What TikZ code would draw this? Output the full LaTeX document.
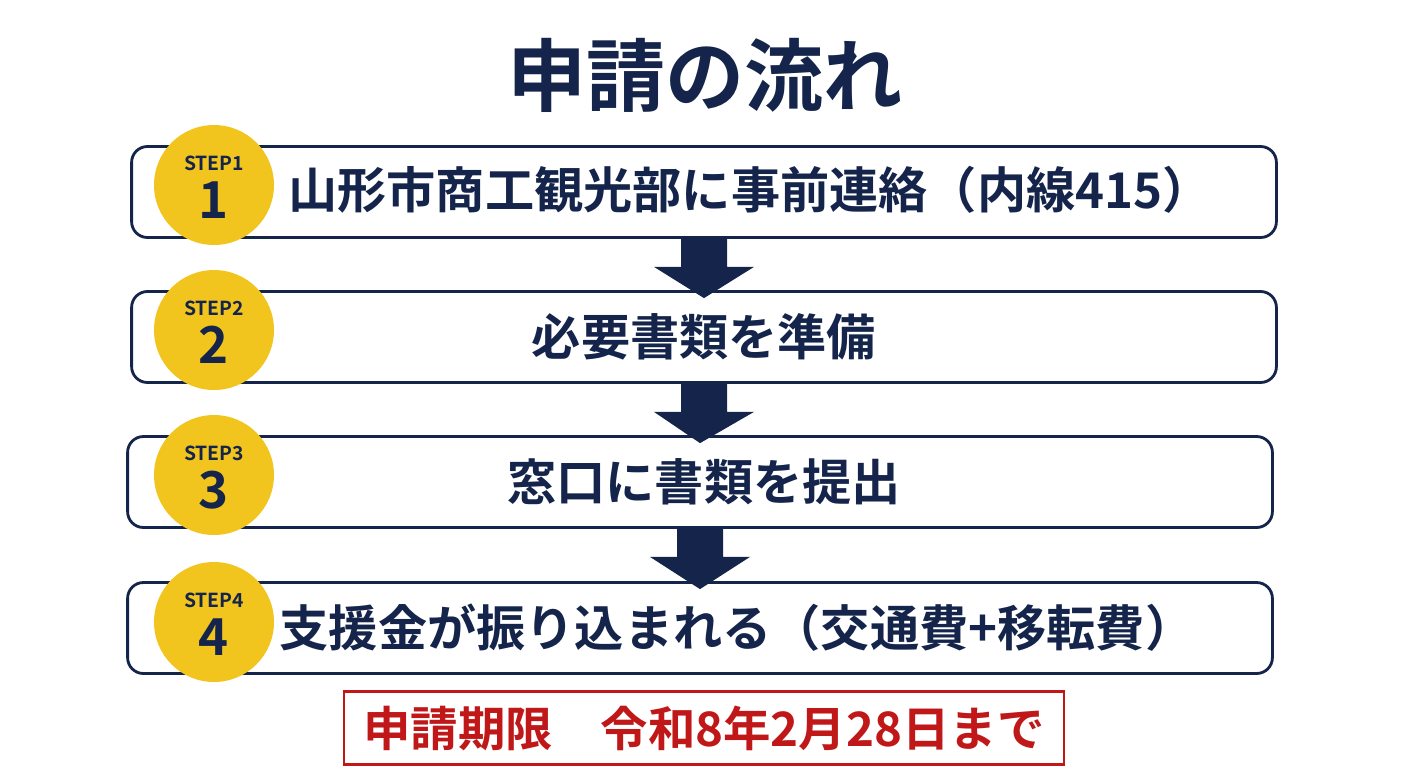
\documentclass[tikz,border=0pt]{standalone}
\usepackage{fontspec}
\newfontfamily\jp{Noto Sans CJK JP Bold}
\usetikzlibrary{calc}
\definecolor{navy}{HTML}{14244A}
\definecolor{gold}{HTML}{F2C41E}
\definecolor{alert}{HTML}{C01818}
\begin{document}
\begin{tikzpicture}[x=0.02cm,y=-0.02cm,
    stepbox/.style={draw=navy, line width=1.6pt, rounded corners=9pt, fill=white,
      minimum width=22.9cm, minimum height=1.82cm, inner sep=0pt},
    steptext/.style={font=\jp\fontsize{28}{28}\selectfont, text=navy},
    badge/.style={circle, fill=gold, minimum size=2.4cm, inner sep=0pt},
    flow/.style={fill=navy}]
  \useasboundingbox (0,0) rectangle (1408,768);
  % Title
  \node[font=\jp\fontsize{45}{45}\selectfont, text=navy] (title) at (705,75) {申請の流れ};

  % Steps
  \node[stepbox] (s1) at (704,192) {};
  \node[stepbox] (s2) at (704,337) {};
  \node[stepbox] (s3) at (700,482) {};
  \node[stepbox] (s4) at (700,628) {};
  \node[steptext] (t1) at (750,190) {山形市商工観光部に事前連絡（内線415）};
  \node[steptext] (t2) at (704,337) {必要書類を準備};
  \node[steptext] (t3) at (704,482) {窓口に書類を提出};
  \node[steptext] (t4) at (737,628) {支援金が振り込まれる（交通費+移転費）};

  % Badges
  \foreach \n/\y in {1/185,2/330,3/475,4/622}{
    \node[badge] (b\n) at (214,\y) {};
    \node[text=navy, font=\jp\fontsize{11}{11}\selectfont] (l\n) at (214,\y-22) {STEP\n};
    \node[text=navy, font=\jp\fontsize{29}{29}\selectfont] (n\n) at (214,\y+15) {\n};
  }

  % Arrows
  \foreach \a/\b in {s1/s2,s2/s3,s3/s4}{
    \fill[flow] ($(\a.south)+(-23,0)$) -- ++(0,28) -- ++(-27,0)
      -- ($(\b.north)+(0,8)$) -- ($(\a.south)+(50,28)$)
      -- ++(-27,0) -- ++(0,-28) -- cycle;
  }

  % Deadline
  \node[draw=alert, line width=1.6pt, text=alert, minimum width=14.4cm, minimum height=1.45cm,
    font=\jp\fontsize{27}{27}\selectfont] (limit) at (704,728) {申請期限\quad 令和8年2月28日まで};
\end{tikzpicture}
\end{document}
